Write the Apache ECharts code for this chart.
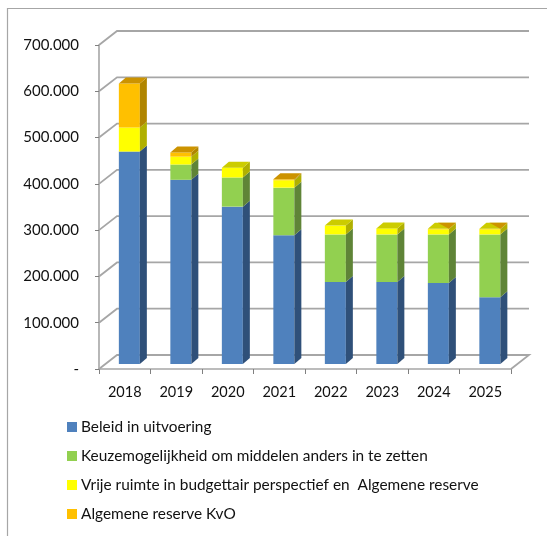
<!DOCTYPE html>
<html><head><meta charset="utf-8">
<style>html,body{margin:0;padding:0;background:#fff}#c{width:547px;height:536px}</style>
<script src="https://cdn.jsdelivr.net/npm/echarts@6/dist/echarts.min.js"></script>
</head><body><div id="c"></div>
<script>
var years = ['2018','2019','2020','2021','2022','2023','2024','2025'];
var beleid = [459000,398000,340000,278000,177000,177000,175000,144000];
var keuze  = [0,33000,63000,103000,103000,103000,105000,136000];
var vrije  = [52000,17000,21000,16000,19000,13000,11000,11000];
var kvo    = [95000,9000,0,2000,0,0,1000,1000];
var gridTicks = [0,100000,200000,300000,400000,500000,600000,700000];
var names = ['Beleid in uitvoering','Keuzemogelijkheid om middelen anders in te zetten','Vrije ruimte in budgettair perspectief en  Algemene reserve','Algemene reserve KvO'];
var seriesValues = [beleid,keuze,vrije,kvo];
var fronts = ['#4f81bd','#92d050','#ffff00','#ffc000'];
var sides  = ['#2f5079','#5f8437','#b0b000','#b08500'];
var tops   = ['#4373a8','#7fb545','#cccc00','#cc9300'];
var GRAY = '#a6a6a6';
var WALL_DX = 18, WALL_DY = -14, BAR_DX = 4.6, BAR_DY = -5, BAR_W = 21, D_X = 7, D_Y = -6;

function lastNonZero(i){ for (var s=3;s>=0;s--) if (seriesValues[s][i]>0) return s; return 0; }

function barRender(sIdx){
  return function(params, api){
    var i = api.value(0), v = api.value(1);
    if (!v) return {type:'group',children:[]};
    var base = 0; for (var s=0;s<sIdx;s++) base += seriesValues[s][i];
    var p0 = api.coord([i, base]), p1 = api.coord([i, base+v]);
    var x0 = p0[0]+BAR_DX-BAR_W/2, x1 = x0+BAR_W, yb = p0[1]+BAR_DY, yt = p1[1]+BAR_DY;
    var kids = [
      {type:'rect',shape:{x:x0,y:yt,width:BAR_W,height:yb-yt},style:{fill:fronts[sIdx]}},
      {type:'polygon',shape:{points:[[x1,yb],[x1+D_X,yb+D_Y],[x1+D_X,yt+D_Y],[x1,yt]]},style:{fill:sides[sIdx]}}
    ];
    if (sIdx===lastNonZero(i)) {
      if (v<1500 && sIdx>0) {
        // a very thin top segment: the face beneath still shows, with only a corner of this colour
        kids.push({type:'polygon',shape:{points:[[x0,yt],[x0+D_X,yt+D_Y],[x1+D_X,yt+D_Y],[x1,yt]]},style:{fill:tops[sIdx-1]}});
        kids.push({type:'polygon',shape:{points:[[x0+D_X+3,yt+D_Y],[x1+D_X,yt+D_Y],[x1,yt]]},style:{fill:tops[sIdx]}});
      } else {
        kids.push({type:'polygon',shape:{points:[[x0,yt],[x0+D_X,yt+D_Y],[x1+D_X,yt+D_Y],[x1,yt]]},style:{fill:tops[sIdx]}});
      }
    }
    return {type:'group',children:kids};
  };
}
var barSeries = names.map(function(n,s){
  return {name:n,type:'custom',coordinateSystem:'cartesian2d',z:5,itemStyle:{color:fronts[s]},
    renderItem:barRender(s),encode:{x:0,y:1},
    data:seriesValues[s].map(function(v,i){return [i,v];})};
});
var wall = {type:'custom',coordinateSystem:'cartesian2d',z:1,silent:true,
  renderItem:function(params,api){
    var v = api.value(1), band = api.size([1,0])[0];
    var a = api.coord([0,v]), b = api.coord([years.length-1,v]);
    var xl = a[0]-band/2, xr = b[0]+band/2;
    var pts = [[xl,a[1]],[xl+WALL_DX,a[1]+WALL_DY],[xr+WALL_DX,a[1]+WALL_DY]];
    if (v===0) pts.push([xr,a[1]]);
    return {type:'polyline',shape:{points:pts},style:{stroke:GRAY,lineWidth:1.8,fill:null}};
  },
  data:gridTicks.map(function(v){return [0,v];})};

var chart = echarts.init(document.getElementById('c'),null,{renderer:'canvas'});
chart.setOption({
  animation:false,
  backgroundColor:'#fff',
  textStyle:{fontFamily:'Lato, "Open Sans", sans-serif'},
  graphic:[{type:'polyline',silent:true,z:-1,shape:{points:[[7.5,540],[7.5,8.5],[550,8.5]]},style:{stroke:GRAY,lineWidth:1.2,fill:null}}],
  grid:{left:99,top:45,width:412,height:324,containLabel:false},
  xAxis:{type:'category',data:years,boundaryGap:true,
    axisLine:{lineStyle:{color:GRAY,width:1.6}},
    axisTick:{show:true,alignWithLabel:false,length:5,lineStyle:{color:'#808080',width:1}},
    axisLabel:{color:'#111',fontSize:14.5,margin:16,fontFamily:'Lato'},
    splitLine:{show:false}},
  yAxis:{type:'value',min:0,max:700000,interval:100000,
    axisLine:{show:true,lineStyle:{color:GRAY,width:1.6}},
    axisTick:{show:true,length:4,lineStyle:{color:'#808080',width:1}},
    axisLabel:{color:'#111',fontSize:15,margin:20,fontFamily:'Lato',
      formatter:function(v){return v===0?'-':(v/1000)+'.000';}},
    splitLine:{show:false}},
  legend:{orient:'vertical',left:62,top:414,itemWidth:10,itemHeight:10,itemGap:13,icon:'rect',
    data:names,selectedMode:false,
    textStyle:{color:'#111',fontSize:15.4,lineHeight:16,fontFamily:'Lato',padding:[0,0,0,-1]}},
  series:[wall].concat(barSeries)
});
</script></body></html>
